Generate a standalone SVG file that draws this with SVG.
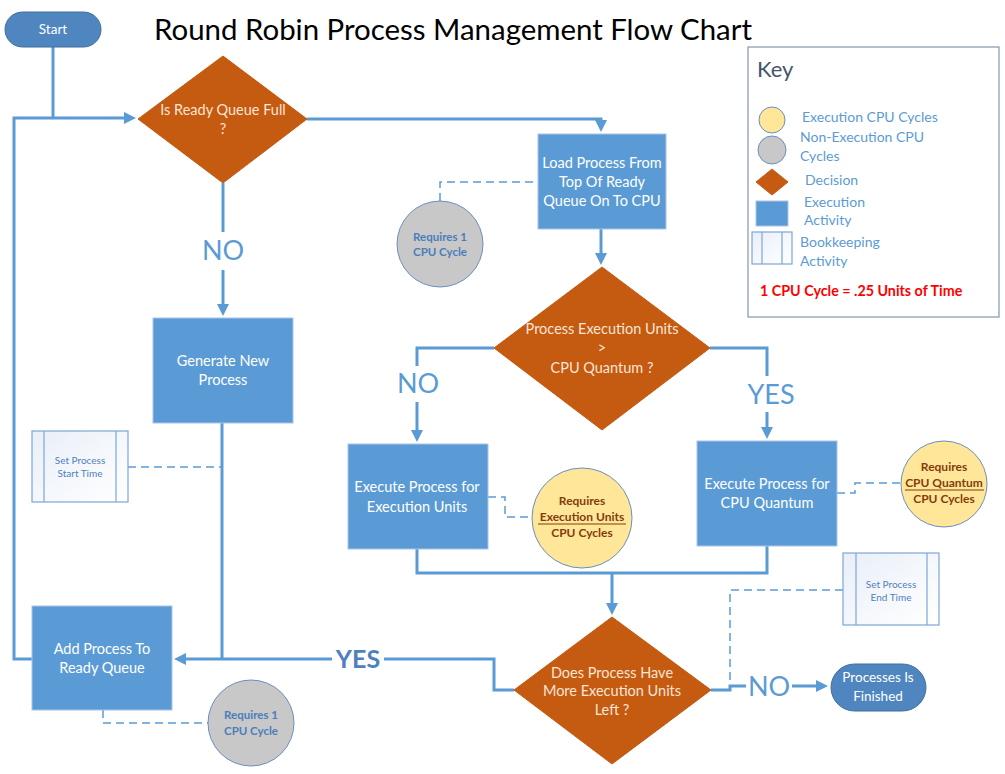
<svg xmlns="http://www.w3.org/2000/svg" width="1005" height="774" viewBox="0 0 1005 774">
<defs>
<marker id="arr" markerUnits="userSpaceOnUse" markerWidth="14" markerHeight="14" refX="2" refY="6" orient="auto">
<path d="M0,0 L12,6 L0,12 z" fill="#5b9bd5"/>
</marker>
<linearGradient id="bk" x1="0" y1="0" x2="1" y2="1">
<stop offset="0" stop-color="#e9eff8"/>
<stop offset="1" stop-color="#ffffff"/>
</linearGradient>
</defs>
<style>
text{font-family:Lato,"Liberation Sans",sans-serif;text-anchor:middle}
.box{fill:#5b9bd5;stroke:#a9c4e6;stroke-width:1}
.dec{fill:#c55a11;stroke:#c55a11}
.pill{fill:#4f86bf;stroke:#41719c;stroke-width:1}
.wt{fill:#ffffff;font-size:14.5px}
.st{fill:#ffffff;font-size:13.5px}
.dt{fill:#fbe5d6;font-size:14.5px}
.con{fill:none;stroke:#5b9bd5;stroke-width:3}
.dash{fill:none;stroke:#5b9bd5;stroke-width:1.5;stroke-dasharray:8,5}
.gray{fill:#c8c8c8;stroke:#6a8fbf;stroke-width:1}
.yel{fill:#ffe699;stroke:#6a8fbf;stroke-width:1}
.gt{fill:#4a7ebb;font-size:11.5px;font-weight:bold}
.yt{fill:#843c0c;font-size:12px;font-weight:bold}
.bkbox{fill:url(#bk);stroke:#7ea6d8;stroke-width:1.2}
.bt{fill:#4f81bd;font-size:10px}
.lbl{fill:#5b9bd5;font-size:27px}
.kt{fill:#5b9bd5;font-size:14px;text-anchor:start}
</style>
<rect width="1005" height="774" fill="#ffffff"/>
<text x="453" y="40" font-size="28" fill="#000000" textLength="598" lengthAdjust="spacingAndGlyphs">Round Robin Process Management Flow Chart</text>

<g id="connectors">
<polyline class="con" points="53,47 53,118"/>
<polyline class="con" points="32,659 14,659 14,118 126,118" marker-end="url(#arr)"/>
<polyline class="con" points="307,119 601,119 601,122" marker-end="url(#arr)"/>
<polyline class="con" points="223,183 223,306" marker-end="url(#arr)"/>
<polyline class="con" points="601,229 601,255" marker-end="url(#arr)"/>
<polyline class="con" points="494,348 417,348 417,432" marker-end="url(#arr)"/>
<polyline class="con" points="710,348 767,348 767,429" marker-end="url(#arr)"/>
<polyline class="con" points="417,549 417,573 767,573 767,546"/>
<polyline class="con" points="612,573 612,605" marker-end="url(#arr)"/>
<polyline class="con" points="222,423 222,659"/>
<polyline class="con" points="514,690 494,690 494,659 184,659" marker-end="url(#arr)"/>
<polyline class="con" points="711,690 730,690 730,686 818,686" marker-end="url(#arr)"/>
<polyline class="dash" points="440,201 440,182 538,182"/>
<polyline class="dash" points="128,467 222,467"/>
<polyline class="dash" points="488,497 505,497 505,517 532,517"/>
<polyline class="dash" points="837,493 855,493 855,483 902,483"/>
<polyline class="dash" points="843,590 730,590 730,686"/>
<polyline class="dash" points="103,710 103,723 208,723"/>
<rect x="202" y="232" width="42" height="38" fill="#ffffff"/>
<text class="lbl" x="223" y="260">NO</text>
<rect x="396" y="366" width="44" height="36" fill="#ffffff"/>
<text class="lbl" x="418" y="393">NO</text>
<rect x="745" y="376" width="52" height="36" fill="#ffffff"/>
<text class="lbl" x="771" y="404">YES</text>
<rect x="332" y="645" width="52" height="28" fill="#ffffff"/>
<text x="358" y="668" font-size="25" font-weight="bold" fill="#4f81bd">YES</text>
<rect x="746" y="672" width="46" height="30" fill="#ffffff"/>
<text class="lbl" x="769" y="696">NO</text>
</g>

<g id="start">
<rect class="pill" x="5" y="12" width="96" height="35" rx="17.5"/>
<text class="st" x="53" y="34">Start</text>
</g>

<g id="ready-full">
<polygon class="dec" points="223,56 307,119 223,183 138,119"/>
<text class="dt" x="223" y="115">Is Ready Queue Full</text>
<text class="dt" x="223" y="134">?</text>
</g>

<g id="load-process">
<rect class="box" x="538" y="134" width="128" height="95"/>
<text class="wt" x="602" y="168">Load Process From</text>
<text class="wt" x="602" y="187">Top Of Ready</text>
<text class="wt" x="602" y="206">Queue On To CPU</text>
</g>

<g id="cycle-load">
<circle class="gray" cx="440" cy="244" r="43"/>
<text class="gt" x="440" y="241">Requires 1</text>
<text class="gt" x="440" y="256">CPU Cycle</text>
</g>

<g id="generate">
<rect class="box" x="153" y="318" width="140" height="105"/>
<text class="wt" x="223" y="366">Generate New</text>
<text class="wt" x="223" y="385">Process</text>
</g>

<g id="set-start">
<rect class="bkbox" x="32" y="431" width="96" height="71"/>
<line x1="44" y1="431" x2="44" y2="502" stroke="#7ea6d8" stroke-width="1.2"/>
<line x1="116" y1="431" x2="116" y2="502" stroke="#7ea6d8" stroke-width="1.2"/>
<text class="bt" x="80" y="463.5">Set Process</text>
<text class="bt" x="80" y="476.5">Start Time</text>
</g>

<g id="exec-compare">
<polygon class="dec" points="602,267 710,348 602,430 494,348"/>
<text class="dt" x="602" y="334">Process Execution Units</text>
<text class="dt" x="602" y="353">&gt;</text>
<text class="dt" x="602" y="373">CPU Quantum ?</text>
</g>

<g id="exec-units">
<rect class="box" x="348" y="444" width="140" height="105"/>
<text class="wt" x="417" y="492">Execute Process for</text>
<text class="wt" x="417" y="512">Execution Units</text>
</g>

<g id="cycle-units">
<circle class="yel" cx="582" cy="518" r="50"/>
<text class="yt" x="582" y="505">Requires</text>
<text class="yt" x="582" y="521">Execution Units</text>
<line x1="538" y1="524" x2="626" y2="524" stroke="#843c0c" stroke-width="1.2"/>
<text class="yt" x="582" y="537">CPU Cycles</text>
</g>

<g id="exec-quantum">
<rect class="box" x="697" y="441" width="140" height="105"/>
<text class="wt" x="767" y="489">Execute Process for</text>
<text class="wt" x="767" y="508">CPU Quantum</text>
</g>

<g id="cycle-quantum">
<circle class="yel" cx="944" cy="484" r="43"/>
<text class="yt" x="944" y="471">Requires</text>
<text class="yt" x="944" y="487">CPU Quantum</text>
<line x1="905" y1="490" x2="984" y2="490" stroke="#843c0c" stroke-width="1.2"/>
<text class="yt" x="944" y="503">CPU Cycles</text>
</g>

<g id="set-end">
<rect class="bkbox" x="843" y="553" width="96" height="72"/>
<line x1="856" y1="553" x2="856" y2="625" stroke="#7ea6d8" stroke-width="1.2"/>
<line x1="927" y1="553" x2="927" y2="625" stroke="#7ea6d8" stroke-width="1.2"/>
<text class="bt" x="891" y="587.5">Set Process</text>
<text class="bt" x="891" y="600.5">End Time</text>
</g>

<g id="more-units">
<polygon class="dec" points="612,617 711,690 612,764 514,690"/>
<text class="dt" x="612" y="678">Does Process Have</text>
<text class="dt" x="612" y="696">More Execution Units</text>
<text class="dt" x="612" y="715">Left ?</text>
</g>

<g id="add-ready">
<rect class="box" x="32" y="606" width="140" height="104"/>
<text class="wt" x="102" y="654">Add Process To</text>
<text class="wt" x="102" y="673">Ready Queue</text>
</g>

<g id="cycle-add">
<circle class="gray" cx="251" cy="723" r="43"/>
<text class="gt" x="251" y="719">Requires 1</text>
<text class="gt" x="251" y="735">CPU Cycle</text>
</g>

<g id="finished">
<rect class="pill" x="831" y="664" width="95" height="47" rx="23.5"/>
<text class="st" x="878" y="682">Processes Is</text>
<text class="st" x="878" y="701">Finished</text>
</g>

<g id="key">
<rect x="748" y="47" width="251" height="270" fill="#ffffff" stroke="#8497b0" stroke-width="1.2"/>
<text x="757" y="77" font-size="22" fill="#44546a" style="text-anchor:start">Key</text>
<circle class="yel" cx="772" cy="120" r="13"/>
<text class="kt" x="802" y="122">Execution CPU Cycles</text>
<circle class="gray" cx="772" cy="150" r="14"/>
<text class="kt" x="800" y="142">Non-Execution CPU</text>
<text class="kt" x="800" y="161">Cycles</text>
<polygon class="dec" points="772,169 788,182 772,195 756,182"/>
<text class="kt" x="805" y="185">Decision</text>
<rect class="box" x="756" y="201" width="32" height="25"/>
<text class="kt" x="804" y="207">Execution</text>
<text class="kt" x="804" y="225">Activity</text>
<rect class="bkbox" x="752" y="232" width="40" height="32"/>
<line x1="762" y1="232" x2="762" y2="264" stroke="#7ea6d8" stroke-width="1.2"/>
<line x1="782" y1="232" x2="782" y2="264" stroke="#7ea6d8" stroke-width="1.2"/>
<text class="kt" x="800" y="247">Bookkeeping</text>
<text class="kt" x="800" y="266">Activity</text>
<text x="760" y="296" font-size="14.3" font-weight="bold" fill="#ff0000" style="text-anchor:start">1 CPU Cycle = .25 Units of Time</text>
</g>
</svg>
